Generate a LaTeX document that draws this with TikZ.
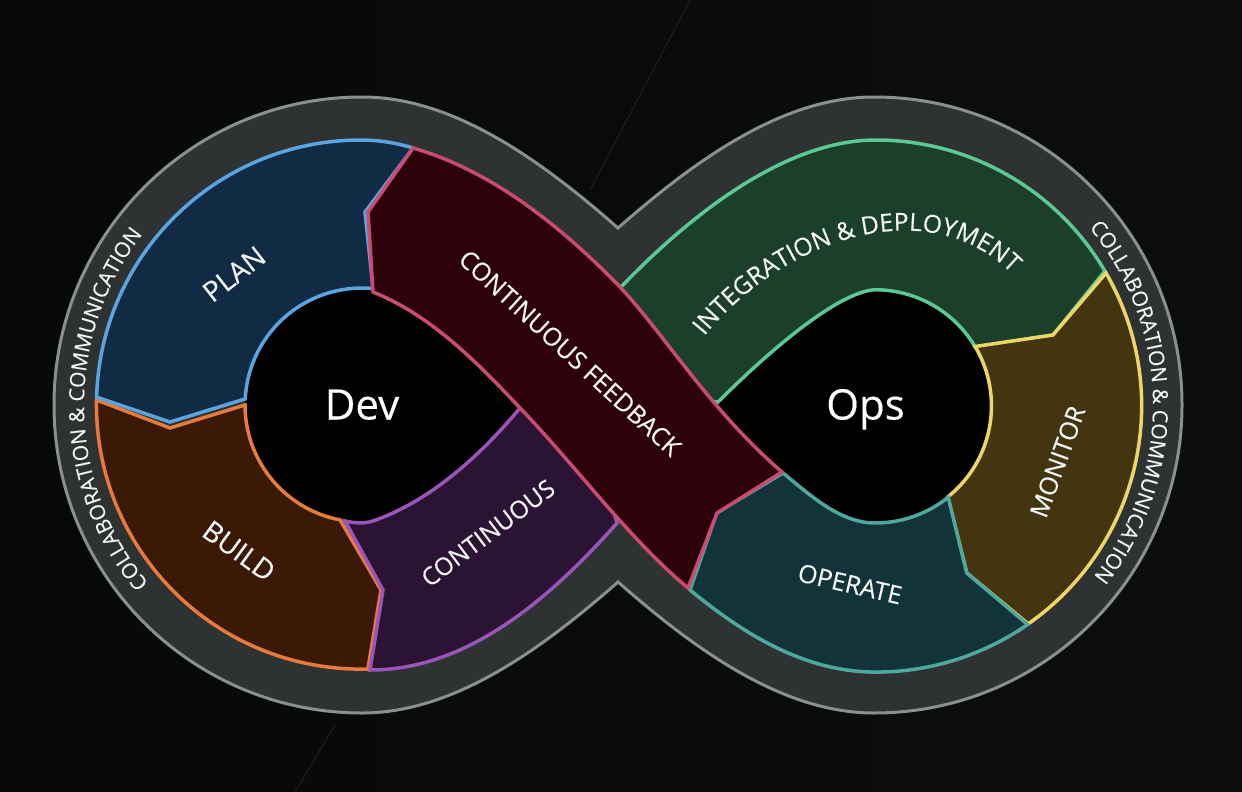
\documentclass[tikz,border=0pt]{standalone}
\usepackage{fontspec}
\setmainfont{Open Sans}[FakeBold=0.3]
\usetikzlibrary{decorations.text}
\definecolor{bgleft}{HTML}{070808}
\definecolor{bgright}{HTML}{0C0D0D}
\definecolor{streak}{HTML}{1E2020}
\definecolor{bandfill}{HTML}{2E3232}
\definecolor{bandline}{HTML}{8B8F8F}
\definecolor{planfill}{HTML}{122B45}
\definecolor{planline}{HTML}{5AA5E0}
\definecolor{buildfill}{HTML}{3A1A06}
\definecolor{buildline}{HTML}{E87A3C}
\definecolor{contfill}{HTML}{2B1433}
\definecolor{contline}{HTML}{9A55B8}
\definecolor{feedfill}{HTML}{2E020A}
\definecolor{feedline}{HTML}{C94A72}
\definecolor{intfill}{HTML}{1B3F2B}
\definecolor{intline}{HTML}{5CC994}
\definecolor{monfill}{HTML}{43350F}
\definecolor{monline}{HTML}{EFD566}
\definecolor{opfill}{HTML}{12333A}
\definecolor{opline}{HTML}{4FA89E}
\definecolor{labelwhite}{HTML}{F2F4F4}
\newcommand{\ringfont}{\fontsize{21}{21}\selectfont}
\newcommand{\curvefont}{\fontsize{24.7}{24.7}\selectfont}

\begin{document}
\begin{tikzpicture}[x=1pt,y=-1pt]
\tikzset{region/.style 2 args={draw=#1,fill=#2,line width=3.5pt},
	sector/.style={text=labelwhite,font=\fontsize{#1}{#1}\selectfont,inner sep=0pt},
	hub/.style={text=white,font=\fontsize{42}{42}\selectfont,inner sep=0pt,anchor=base}}
\useasboundingbox (0,0) rectangle (1242,792);
\fill[left color=bgleft,right color=bgright] (0,0) rectangle (1242,792);
\draw[streak,line width=1pt] (690,0) -- (590,190);
\draw[streak,line width=1pt] (335,725) -- (295,792);

% outer band
\draw[draw=bandline,fill=bandfill,line width=3pt]
(618,228) .. controls (701,155) and (786,97) .. (874,97)
arc[start angle=-90,end angle=90,radius=308]
.. controls (786,713) and (701,655) .. (618,582)
.. controls (535,655) and (450,713) .. (362,713)
arc[start angle=-270,end angle=-90,radius=308]
.. controls (450,97) and (535,155) .. (618,228) -- cycle;

% holes
\fill[black] (373,288.5) arc[start angle=-84.6,end angle=-259.2,radius=117]
.. controls (355,523) and (363,524) .. (373,521)
.. controls (425,503) and (475,462) .. (520,408)
-- (470,330) -- (390,280) -- cycle;
\fill[black] (718,402) .. controls (760,360) and (835,290) .. (875,290)
arc[start angle=-90,end angle=90,radius=116.5]
.. controls (840,523) and (810,495) .. (783,473)
-- (740,470) -- cycle;

% right lobe
\draw[region={intline}{intfill}] (875.7,140)
arc[start angle=-90,end angle=-30.5,radius=266]
-- (1053,335) -- (975,347) -- (974.1,345.1)
arc[start angle=-31.6,end angle=-90,radius=116.3]
.. controls (835,292) and (760,360) .. (718,402)
-- (690,400) -- (640,340) -- (620,288)
.. controls (690,215) and (785,140) .. (875.7,140) -- cycle;
\draw[region={monline}{monfill}] (1106,273)
arc[start angle=-30,end angle=55,radius=266]
-- (966.7,573) -- (947.8,496.9)
arc[start angle=51.3,end angle=-30.7,radius=116.5]
-- (1053,335) -- cycle;
\draw[region={opline}{opfill}] (783,473)
.. controls (810,495) and (840,523) .. (875,523)
arc[start angle=-270,end angle=-308.7,radius=117]
-- (966.7,573) -- (1027.6,624.5)
arc[start angle=55.2,end angle=90,radius=266]
.. controls (805,672) and (745,635) .. (690,590)
-- (716.7,513) -- cycle;

% left lobe
\draw[region={buildline}{buildfill}] (96.5,400)
arc[start angle=-179,end angle=-271.5,radius=264.5]
-- (381,590) -- (340.1,519.9)
arc[start angle=-259.2,end angle=-180,radius=117]
-- (170,428) -- cycle;
\draw[region={planline}{planfill}] (413,148)
.. controls (397,143) and (379,140) .. (361,140)
arc[start angle=-90,end angle=-178.4,radius=264.5]
-- (170,422) -- (245.2,398.9)
arc[start angle=-177,end angle=-84.6,radius=117]
-- (365,212) -- cycle;
\draw[region={contline}{contfill}] (345,521)
-- (383,590) -- (370,670)
.. controls (460,670) and (540,610) .. (617,523)
-- (600,470) -- (545,400) -- (520,408)
.. controls (475,462) and (425,503) .. (373,521)
.. controls (363,524) and (355,523) .. (345,521) -- cycle;
\draw[region={feedline}{feedfill}] (413,148)
.. controls (490,170) and (560,225) .. (620,287)
.. controls (665,335) and (710,410) .. (782,472)
-- (717,513) -- (688,588)
.. controls (630,540) and (575,465) .. (520,408)
.. controls (475,360) and (430,315) .. (373,292)
-- (368,212) -- cycle;

% labels
\node[hub] (dev) at (362,419.5) {Dev};
\node[hub] (ops) at (865.5,419.5) {Ops};
\node[sector=28,rotate=38] (plan) at (234,274) {PLAN};
\node[sector=28,rotate=-36] (build) at (239,551) {BUILD};
\node[sector=24.5,rotate=37] (continuous) at (488,533) {CONTINUOUS};
\node[sector=25,rotate=-42.6] (feedback) at (570,353) {CONTINUOUS FEEDBACK};
\node[sector=25,rotate=70] (monitor) at (1057.5,461.7) {MONITOR};
\node[sector=25,rotate=-13] (operate) at (850,584) {OPERATE};

\path[decorate,decoration={text along path,text align=center,
	text={|\curvefont\color{labelwhite}|INTEGRATION {\&} DEPLOYMENT}}]
(702,339) .. controls (782,238) and (930,188) .. (1014,276);
\path[decorate,decoration={text along path,text align=center,
	text={|\ringfont\color{labelwhite}|COLLABORATION {\&} COMMUNICATION}}]
(146,580) arc[start angle=-219,end angle=-143,radius=278];
\path[decorate,decoration={text along path,text align=center,
	text={|\ringfont\color{labelwhite}|COLLABORATION {\&} COMMUNICATION}}]
(1091,230) arc[start angle=-39,end angle=37.5,radius=278];
\end{tikzpicture}
\end{document}
